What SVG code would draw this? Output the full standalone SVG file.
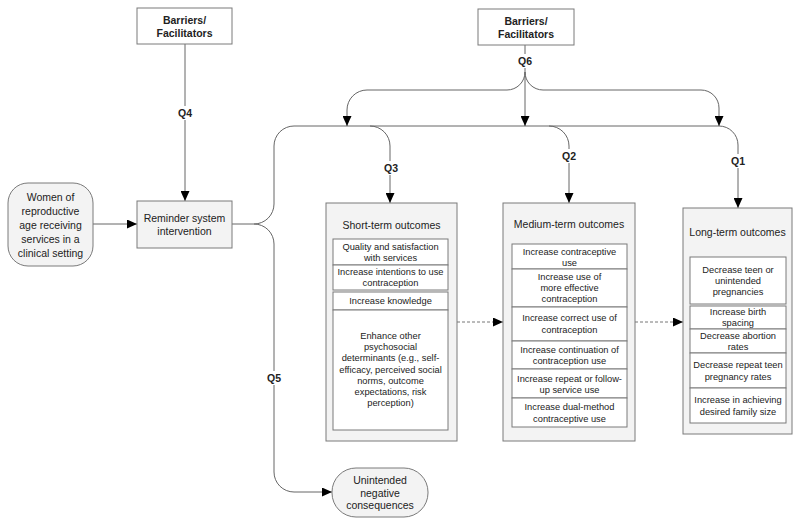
<svg xmlns="http://www.w3.org/2000/svg" width="800" height="525" viewBox="0 0 800 525">
<style>
.bg{fill:#ffffff}
.box{fill:#f3f3f3;stroke:#7a7a7a;stroke-width:1}
.wbox{fill:#ffffff;stroke:#7a7a7a;stroke-width:1}
.row{fill:#ffffff;stroke:#7a7a7a;stroke-width:1}
.t{font-family:"Liberation Sans",Arial,sans-serif;font-size:10.5px;fill:#222;text-anchor:middle}
.r{font-family:"Liberation Sans",Arial,sans-serif;font-size:9.3px;fill:#222;text-anchor:middle}
.b{font-family:"Liberation Sans",Arial,sans-serif;font-size:10.5px;font-weight:bold;fill:#222;text-anchor:middle}
.ln{fill:none;stroke:#666;stroke-width:1}
.dash{fill:none;stroke:#777;stroke-width:1;stroke-dasharray:3,2}
.lbg{fill:#ffffff}
</style>
<defs>
<marker id="arr" markerUnits="userSpaceOnUse" markerWidth="10" markerHeight="9" refX="10" refY="4.5" orient="auto">
<path d="M0,0 L10,4.5 L0,9 z" fill="#000"/>
</marker>
</defs>
<rect class="bg" x="0" y="0" width="800" height="525"/>

<g id="connectors">
<path class="ln" d="M185,44 V201" marker-end="url(#arr)"/>
<path class="ln" d="M93,224 H137" marker-end="url(#arr)"/>
<path class="ln" d="M232,224 H254"/>
<path class="ln" d="M254,224 A20,20 0 0 0 274,204 V146 A20,20 0 0 1 294,126 H719 A19,19 0 0 1 738,145 V208" marker-end="url(#arr)"/>
<path class="ln" d="M370,126 A20,20 0 0 1 390,146 V203" marker-end="url(#arr)"/>
<path class="ln" d="M549,126 A20,20 0 0 1 569,146 V203" marker-end="url(#arr)"/>
<path class="ln" d="M254,224 A20,20 0 0 1 274,244 V472 A20,20 0 0 0 294,492 H332" marker-end="url(#arr)"/>
<path class="ln" d="M525,45 V126" marker-end="url(#arr)"/>
<path class="ln" d="M525,72 A18,18 0 0 1 507,90 H367 A20,20 0 0 0 347,110 V126" marker-end="url(#arr)"/>
<path class="ln" d="M525,72 A18,18 0 0 0 543,90 H701 A18,18 0 0 1 719,108 V126" marker-end="url(#arr)"/>
<path class="dash" d="M457,322 H503" marker-end="url(#arr)"/>
<path class="dash" d="M635,322 H683" marker-end="url(#arr)"/>
<g id="labels">
<rect class="lbg" x="176" y="106" width="18" height="14"/>
<text class="b" x="185" y="117">Q4</text>
<rect class="lbg" x="382" y="161" width="18" height="14"/>
<text class="b" x="391" y="172">Q3</text>
<rect class="lbg" x="560" y="149" width="18" height="14"/>
<text class="b" x="569" y="160">Q2</text>
<rect class="lbg" x="729" y="154" width="18" height="14"/>
<text class="b" x="738" y="165">Q1</text>
<rect class="lbg" x="265" y="371" width="18" height="14"/>
<text class="b" x="274" y="382">Q5</text>
<rect class="lbg" x="516" y="54" width="18" height="14"/>
<text class="b" x="525" y="65">Q6</text>
</g>
</g>

<g id="barriers1">
<rect class="wbox" x="137" y="8" width="95" height="36"/>
<text class="b" x="184.5" y="24">Barriers/</text>
<text class="b" x="184.5" y="37">Facilitators</text>
</g>

<g id="barriers2">
<rect class="wbox" x="478" y="9" width="96" height="36"/>
<text class="b" x="526" y="25">Barriers/</text>
<text class="b" x="526" y="38">Facilitators</text>
</g>

<g id="women">
<rect class="box" x="8" y="183" width="85" height="83" rx="20" ry="20"/>
<text class="t" x="50.5" y="201">Women of</text>
<text class="t" x="50.5" y="215">reproductive</text>
<text class="t" x="50.5" y="229">age receiving</text>
<text class="t" x="50.5" y="243">services in a</text>
<text class="t" x="50.5" y="257">clinical setting</text>
</g>

<g id="reminder">
<rect class="box" x="137" y="201" width="95" height="47"/>
<text class="t" x="184.5" y="222">Reminder system</text>
<text class="t" x="184.5" y="235">intervention</text>
</g>

<g id="short">
<rect class="box" x="326" y="203" width="131" height="238"/>
<text class="t" x="391.5" y="229">Short-term outcomes</text>
<rect class="row" x="333" y="239" width="115" height="26"/>
<text class="r" x="390.5" y="250">Quality and satisfaction</text>
<text class="r" x="390.5" y="261">with services</text>
<rect class="row" x="333" y="265" width="115" height="25"/>
<text class="r" x="390.5" y="275">Increase intentions to use</text>
<text class="r" x="390.5" y="286">contraception</text>
<rect class="row" x="333" y="292" width="115" height="18"/>
<text class="r" x="390.5" y="304">Increase knowledge</text>
<rect class="row" x="333" y="310" width="115" height="120"/>
<text class="r" x="390.5" y="339">Enhance other</text>
<text class="r" x="390.5" y="350.2">psychosocial</text>
<text class="r" x="390.5" y="361.4">determinants (e.g., self-</text>
<text class="r" x="390.5" y="372.6">efficacy, perceived social</text>
<text class="r" x="390.5" y="383.8">norms, outcome</text>
<text class="r" x="390.5" y="395">expectations, risk</text>
<text class="r" x="390.5" y="406.2">perception)</text>
</g>

<g id="medium">
<rect class="box" x="503" y="203" width="132" height="238"/>
<text class="t" x="569" y="228">Medium-term outcomes</text>
<rect class="row" x="512" y="244" width="115" height="25"/>
<text class="r" x="569.5" y="255">Increase contraceptive</text>
<text class="r" x="569.5" y="266">use</text>
<rect class="row" x="512" y="269" width="115" height="38"/>
<text class="r" x="569.5" y="280">Increase use of</text>
<text class="r" x="569.5" y="291">more effective</text>
<text class="r" x="569.5" y="302">contraception</text>
<rect class="row" x="512" y="307" width="115" height="34"/>
<text class="r" x="569.5" y="321">Increase correct use of</text>
<text class="r" x="569.5" y="333">contraception</text>
<rect class="row" x="512" y="341" width="115" height="28"/>
<text class="r" x="569.5" y="353">Increase continuation of</text>
<text class="r" x="569.5" y="364">contraception use</text>
<rect class="row" x="512" y="369" width="115" height="29"/>
<text class="r" x="569.5" y="382">Increase repeat or follow-</text>
<text class="r" x="569.5" y="393">up service use</text>
<rect class="row" x="512" y="398" width="115" height="29"/>
<text class="r" x="569.5" y="410">Increase dual-method</text>
<text class="r" x="569.5" y="422">contraceptive use</text>
</g>

<g id="long">
<rect class="box" x="683" y="208" width="109" height="226"/>
<text class="t" x="737.5" y="236">Long-term outcomes</text>
<rect class="row" x="690" y="257" width="96" height="47"/>
<text class="r" x="738" y="273">Decrease teen or</text>
<text class="r" x="738" y="284">unintended</text>
<text class="r" x="738" y="295">pregnancies</text>
<rect class="row" x="690" y="306" width="96" height="23"/>
<text class="r" x="738" y="315">Increase birth</text>
<text class="r" x="738" y="326">spacing</text>
<rect class="row" x="690" y="329" width="96" height="24"/>
<text class="r" x="738" y="339">Decrease abortion</text>
<text class="r" x="738" y="349.5">rates</text>
<rect class="row" x="690" y="353" width="96" height="35"/>
<text class="r" x="738" y="368">Decrease repeat teen</text>
<text class="r" x="738" y="380">pregnancy rates</text>
<rect class="row" x="690" y="388" width="96" height="35"/>
<text class="r" x="738" y="403">Increase in achieving</text>
<text class="r" x="738" y="414.5">desired family size</text>
</g>

<g id="unintended">
<rect class="box" x="332" y="468" width="96" height="49" rx="24" ry="24"/>
<text class="t" x="380" y="484">Unintended</text>
<text class="t" x="380" y="497">negative</text>
<text class="t" x="380" y="509">consequences</text>
</g>
</svg>
